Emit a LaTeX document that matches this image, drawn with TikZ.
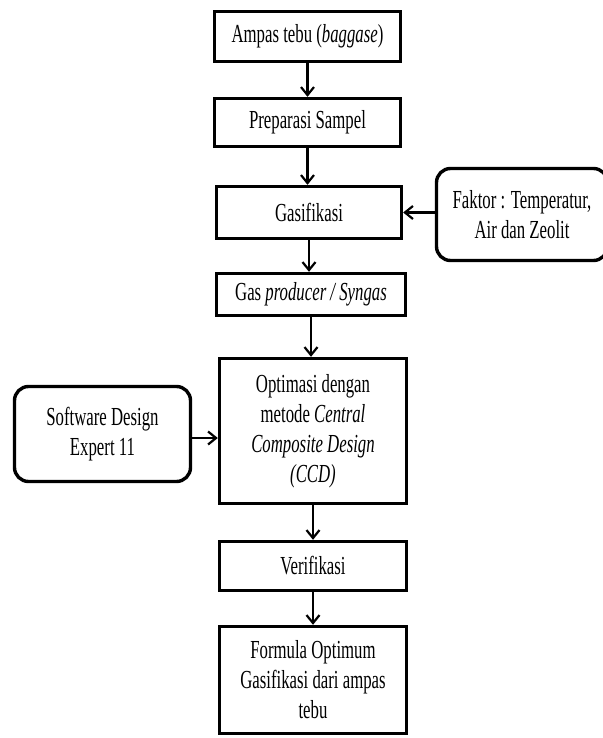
\documentclass[tikz,border=0pt]{standalone}
\usepackage{fontspec}
\setmainfont{Liberation Serif}[FakeStretch=0.645]
\usetikzlibrary{arrows.meta}
\begin{document}
\begin{tikzpicture}[x=1pt,y=-1pt,
  box/.style={draw, line width=3.4pt, align=center, inner sep=0pt,
    font=\fontsize{26}{30}\selectfont},
  rbox/.style={box, rounded corners=14pt},
  arr/.style={line width=2.2pt,
    -{Straight Barb[length=8pt,width=13pt,line width=2.2pt]}}]
\useasboundingbox (0,0) rectangle (602,738);
\fill[white] (0,0) rectangle (602,738);
\node[box, minimum width=186, minimum height=50] (a) at (307.5,36.5) {Ampas tebu (\textit{baggase})};
\node[box, minimum width=186, minimum height=48] (b) at (307.5,122.5) {Preparasi Sampel};
\node[box, minimum width=185, minimum height=52] (c) at (309,212.5) {Gasifikasi};
\node[box, minimum width=189, minimum height=42] (d) at (311,294.5) {Gas \textit{producer / Syngas}};
\node[box, minimum width=187, minimum height=145] (e) at (313,431) {Optimasi dengan\\metode \textit{Central}\\\textit{Composite Design}\\\textit{(CCD)}};
\node[box, minimum width=187, minimum height=49] (f) at (313,566) {Verifikasi};
\node[box, minimum width=187, minimum height=107] (g) at (313,680) {Formula Optimum\\Gasifikasi dari ampas\\tebu};
\node[rbox, minimum width=171, minimum height=92] (k) at (522,214.5) {Faktor : Temperatur,\\Air dan Zeolit};
\node[rbox, minimum width=176, minimum height=95] (s) at (102.5,434) {Software Design\\Expert 11};
\draw[arr] (a.south) -- (a.south |- b.north);
\draw[arr] (b.south) -- (b.south |- c.north);
\draw[arr] (c.south) -- (c.south |- d.north);
\draw[arr] (d.south) -- (d.south |- e.north);
\draw[arr] (e.south) -- (e.south |- f.north);
\draw[arr] (f.south) -- (f.south |- g.north);
\draw[arr] (k.west |- c.east) -- (c.east);
\draw[arr] (s.east |- 0,438) -- (e.west |- 0,438);
\end{tikzpicture}
\end{document}
